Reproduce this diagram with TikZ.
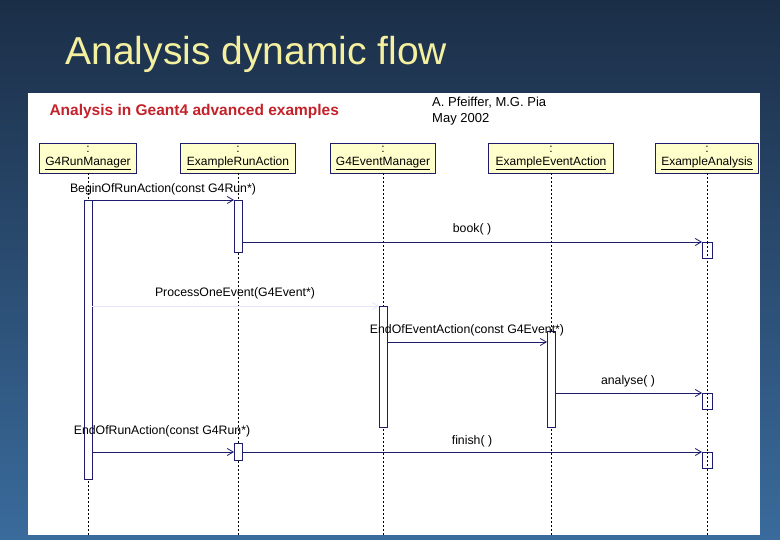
\documentclass[tikz,border=0pt]{standalone}
\usepackage{fontspec}
\setmainfont{Liberation Sans}
\usetikzlibrary{arrows.meta}
\definecolor{navy}{HTML}{1C1C6A}
\definecolor{hdr}{HTML}{FFFFCC}
\definecolor{bgtop}{HTML}{1B2E47}
\definecolor{bgbot}{HTML}{3A6B9C}
\definecolor{ttl}{HTML}{F4F0A0}
\definecolor{redt}{HTML}{C4222A}
\begin{document}
\begin{tikzpicture}[x=1pt,y=-1pt,
  obj/.style={draw=navy,fill=hdr,line width=0.8pt,minimum height=30pt,inner sep=1pt,align=center,font=\fontsize{12}{13}\selectfont},
  life/.style={black,dashed,dash pattern=on 2pt off 2pt,line width=0.6pt},
  act/.style={draw=navy,fill=white,line width=0.8pt},
  msg/.style={navy,line width=0.8pt,-{Straight Barb[length=6pt,width=7pt]}},
  lbl/.style={font=\fontsize{12.3}{13}\selectfont,anchor=south,inner sep=1pt}]
\shade[top color=bgtop,bottom color=bgbot] (0,0) rectangle (780,540);
\useasboundingbox (0,0) rectangle (780,540);
\node[anchor=west,text=ttl,font=\fontsize{39}{44}\selectfont] (title) at (62,54) {Analysis dynamic flow};
\fill[white] (28,93) rectangle (760,535);
\node[anchor=west,text=redt,font=\bfseries\fontsize{15.5}{17}\selectfont] (h) at (46,111) {Analysis in Geant4 advanced examples};
\node[anchor=north west,align=left,font=\fontsize{13}{15.5}\selectfont,inner sep=0pt] (auth) at (432,97) {A. Pfeiffer, M.G. Pia\\May 2002};
% objects
\node[obj,minimum width=97pt] (o1) at (88,158) {:\\\underline{G4RunManager}};
\node[obj,minimum width=115pt] (o2) at (238,158) {:\\\underline{ExampleRunAction}};
\node[obj,minimum width=105pt] (o3) at (383,158) {:\\\underline{G4EventManager}};
\node[obj,minimum width=125pt] (o4) at (551,158) {:\\\underline{ExampleEventAction}};
\node[obj,minimum width=103pt] (o5) at (707,158) {:\\\underline{ExampleAnalysis}};
\coordinate (e1) at (88,535); \coordinate (e2) at (238,535); \coordinate (e3) at (383,535);
\coordinate (e4) at (551,535); \coordinate (e5) at (707,535);
\foreach \i in {1,...,5} \draw[life] (o\i.south) -- (e\i);
% activations
\draw[act] (84,200) rectangle (92,479);
\draw[act] (234,200) rectangle (242,252);
\draw[act] (234,443) rectangle (242,460);
\draw[act] (379,306) rectangle (387,427);
\draw[act] (547,331) rectangle (555,427);
\draw[act] (702,242) rectangle (712,258);
\draw[act] (702,393) rectangle (712,409);
\draw[act] (702,452) rectangle (712,468);
\draw[life] (707,242)--(707,258) (707,393)--(707,409) (707,452)--(707,468);
% messages
\coordinate (a1) at (92,200); \coordinate (b1) at (234,200);
\coordinate (a2) at (242,242); \coordinate (b2) at (702,242);
\coordinate (a3) at (92,306); \coordinate (b3) at (379,306);
\coordinate (a4) at (387,342); \coordinate (b4) at (547,342);
\coordinate (a5) at (555,393); \coordinate (b5) at (702,393);
\coordinate (a6) at (92,452); \coordinate (b6) at (234,452);
\coordinate (a7) at (242,452); \coordinate (b7) at (702,452);
\draw[msg] (a1) -- (b1);
\draw[msg] (a2) -- (b2);
\draw[msg,draw=blue!10] (a3) -- (b3);
\draw[msg] (a4) -- (b4);
\draw[msg] (a5) -- (b5);
\draw[msg] (a6) -- (b6);
\draw[msg] (a7) -- (b7);
\node[lbl] (l1) at (163,196) {BeginOfRunAction(const G4Run*)};
\node[lbl] (l2) at (472,236) {book( )};
\node[lbl] (l3) at (235,300) {ProcessOneEvent(G4Event*)};
\node[lbl] (l4) at (467,337) {EndOfEventAction(const G4Event*)};
\node[lbl] (l5) at (628,388) {analyse( )};
\node[lbl] (l6) at (162,438) {EndOfRunAction(const G4Run*)};
\node[lbl] (l7) at (472,448) {finish( )};
\end{tikzpicture}
\end{document}
